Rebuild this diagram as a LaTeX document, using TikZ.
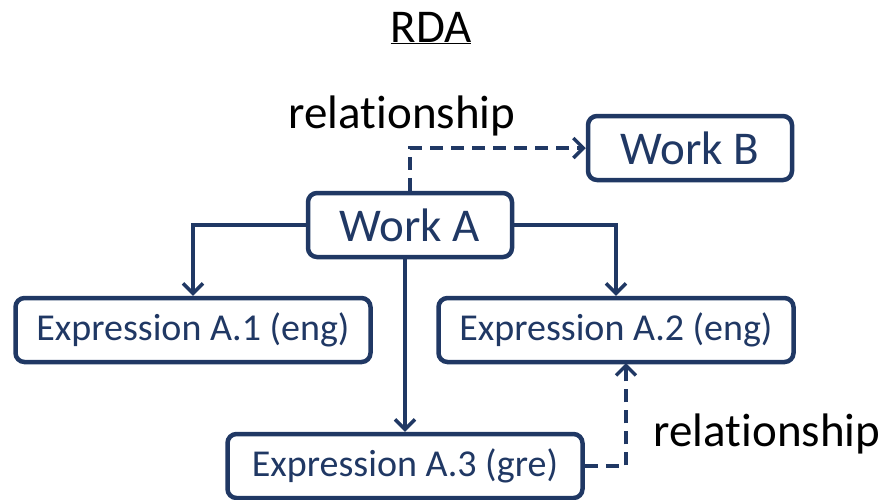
\documentclass[tikz,border=0pt]{standalone}
\usepackage{fontspec}
\setmainfont[Ligatures=NoCommon]{Carlito}
\usepackage{xcolor}
\usepackage{tikz}
\usetikzlibrary{arrows.meta}
\definecolor{navy}{HTML}{203864}

\tikzset{
	work/.style={draw=navy, text=navy, line width=4.5pt, rounded corners=9pt, minimum width=204pt, minimum height=64pt, font=\fontsize{47}{52}\selectfont},
	expr/.style={draw=navy, text=navy, line width=4.5pt, rounded corners=9pt, minimum width=355pt, minimum height=64pt, font=\fontsize{38}{44}\selectfont},
	label/.style={text=black, font=\fontsize{47}{52}\selectfont},
	link/.style={draw=navy, line width=3.5pt, -{Straight Barb[length=10pt,width=20pt]}},
	rel/.style={link, dash pattern=on 13pt off 8pt}
}

\begin{document}
\begin{tikzpicture}[x=1pt,y=-1pt]
		\useasboundingbox (0,0) rectangle (887,499);
		% title
		\node[label] (title) at (431,28) {\underline{RDA}};
		% works
		\node[work] (wa) at (410,225) {Work A};
		\node[work] (wb) at (690,148) {Work B};
		% expressions
		\node[expr] (e1) at (193,330) {Expression A.1 (eng)};
		\node[expr] (e2) at (616,330) {Expression A.2 (eng)};
		\node[expr] (e3) at (405,466) {Expression A.3 (gre)};
		% labels
		\node[label] (rtop) at (402,116) {relationship};
		\node[label] (rbot) at (767,434) {relationship};
		\coordinate (bend) at (626,363);
		% links
		\draw[link] (wa.west) -| (e1.north);
		\draw[link] (wa.east) -| (e2.north);
		\draw[link] (e3.north |- wa.south) -- (e3.north);
		\draw[rel] (wa.north) |- (wb.west);
		\draw[rel] (e3.east) -| (bend);
\end{tikzpicture}
\end{document}
